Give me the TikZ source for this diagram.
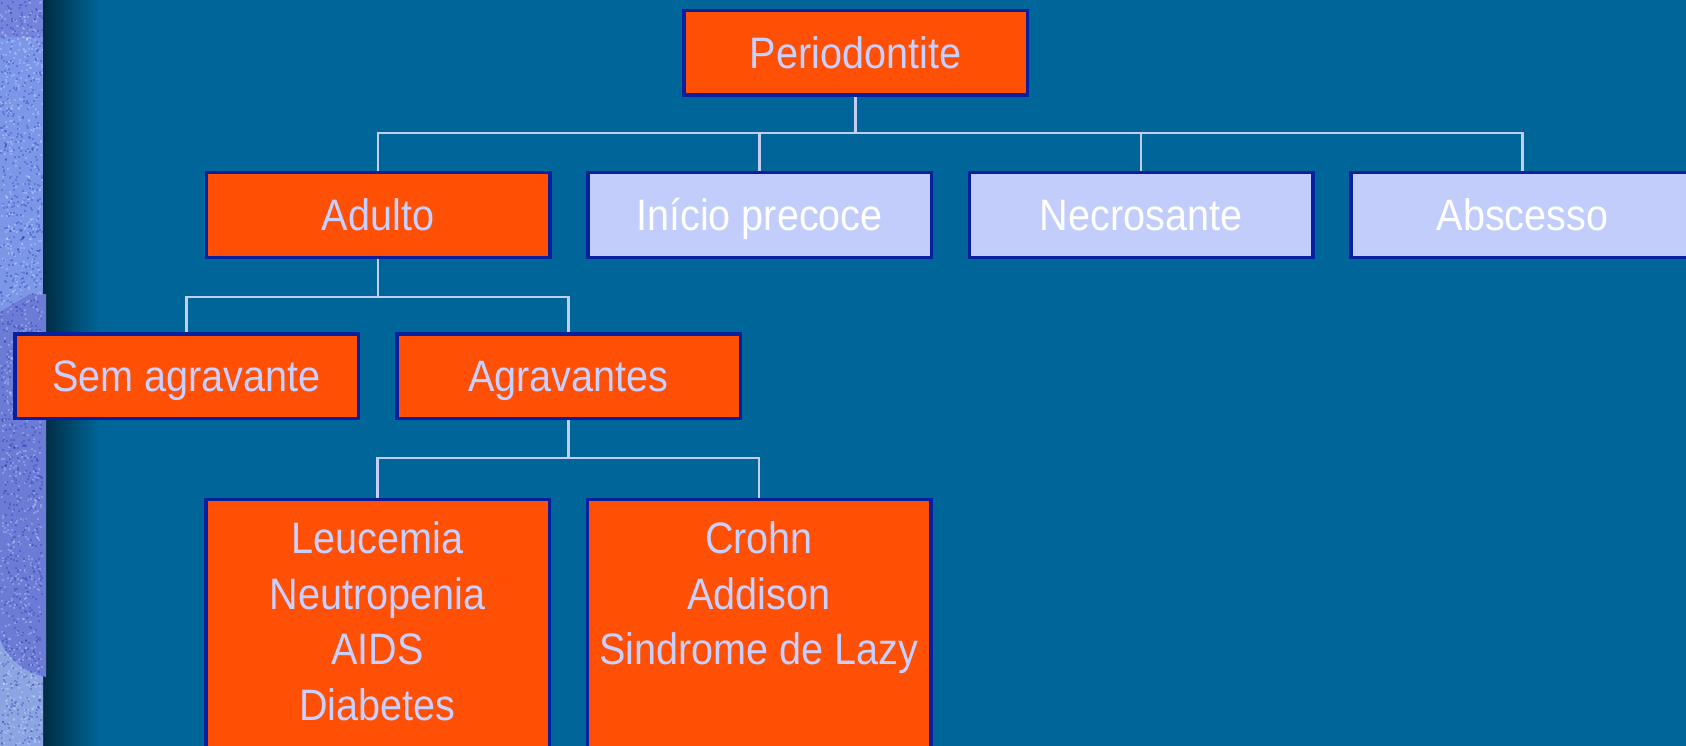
\documentclass[tikz,border=0pt]{standalone}
\usepackage{fontspec}
\setmainfont{Liberation Sans}[FakeStretch=0.9]
\definecolor{bg}{RGB}{0,102,153}
\definecolor{bgdark}{RGB}{0,44,66}
\definecolor{boxorange}{RGB}{255,80,5}
\definecolor{boxlight}{RGB}{195,205,252}
\definecolor{boxedge}{RGB}{8,32,158}
\definecolor{txtlight}{RGB}{200,208,255}
\definecolor{linklight}{RGB}{195,205,245}
\definecolor{stripA}{RGB}{116,132,220}
\definecolor{stripB}{RGB}{124,150,232}
\definecolor{stripC}{RGB}{108,124,214}
\definecolor{stripD}{RGB}{140,164,226}
\newcommand{\lblfont}{\fontsize{44}{55.5}\selectfont}
\tikzset{
  obox/.style={draw=boxedge, line width=3.5pt, fill=boxorange,
    minimum width=343.5pt, minimum height=84.5pt, inner sep=0pt,
    text=txtlight, font=\lblfont, text height=31.5pt, text depth=0pt},
  lbox/.style={obox, fill=boxlight, text=white},
  tallbox/.style={obox, minimum height=320pt, anchor=north},
  mtext/.style={inner sep=0pt, text=txtlight, font=\lblfont, align=center, anchor=north},
  link/.style={draw=linklight, line width=2.5pt},
  dotlight/.style={fill=white, opacity=0.22},
  dotdark/.style={fill=boxedge, opacity=0.25}
}
\begin{document}
\begin{tikzpicture}[x=1pt, y=-1pt]
\useasboundingbox (0,0) rectangle (1686,746);
\clip (0,0) rectangle (1686,746);

% background and shaded edge beside the textured strip
\fill[bg] (0,0) rectangle (1686,746);
\shade[left color=bgdark, right color=bg] (43,0) rectangle (100,746);

% textured strip on the left
\fill[stripA] (0,0) rectangle (43,37);
\fill[stripB] (0,37) rectangle (43,746);
\fill[stripC] (0,312) -- (30,294) -- (46,294) -- (46,677)
  .. controls (25,672) and (8,660) .. (0,640) -- cycle;
\fill[stripD] (0,640) .. controls (8,660) and (25,672) .. (43,677)
  -- (43,746) -- (0,746) -- cycle;
\pgfmathsetseed{17}
\foreach \k in {1,...,900}{
  \pgfmathsetmacro{\px}{rnd*41}
  \pgfmathsetmacro{\py}{rnd*744}
  \fill[dotlight] (\px,\py) rectangle ++(2,2);
}
\foreach \k in {1,...,900}{
  \pgfmathsetmacro{\px}{rnd*41}
  \pgfmathsetmacro{\py}{rnd*744}
  \fill[dotdark] (\px,\py) rectangle ++(2,2);
}

% boxes
\node[obox] (per) at (855.5,53) {Periodontite};
\node[obox] (adu) at (378,215) {Adulto};
\node[lbox] (ini) at (759.5,215) {Início precoce};
\node[lbox] (nec) at (1141,215) {Necrosante};
\node[lbox] (abs) at (1522.5,215) {Abscesso};
\node[obox] (sem) at (186.5,376) {Sem agravante};
\node[obox] (agr) at (568.5,376) {Agravantes};
\node[tallbox] (leu) at (377.5,497.5) {};
\node[tallbox] (cro) at (759,497.5) {};
\node[mtext] (leut) at ([yshift=-24pt]leu.north) {Leucemia\\Neutropenia\\AIDS\\Diabetes};
\node[mtext] (crot) at ([yshift=-24pt]cro.north) {Crohn\\Addison\\Sindrome de Lazy};

% connectors
\coordinate (j1) at ([yshift=-36pt]per.south);
\coordinate (j2) at ([yshift=-38pt]adu.south);
\coordinate (j3) at ([yshift=-38pt]agr.south);
\draw[link] (per.south) -- (j1);
\draw[link] (adu.north) |- (j1) -| (abs.north);
\draw[link] (ini.north) -- (ini.north |- j1);
\draw[link] (nec.north) -- (nec.north |- j1);
\draw[link] (adu.south) -- (j2);
\draw[link] (sem.north) |- (j2) -| (agr.north);
\draw[link] (agr.south) -- (j3);
\draw[link] (leu.north) |- (j3) -| (cro.north);
\end{tikzpicture}
\end{document}
